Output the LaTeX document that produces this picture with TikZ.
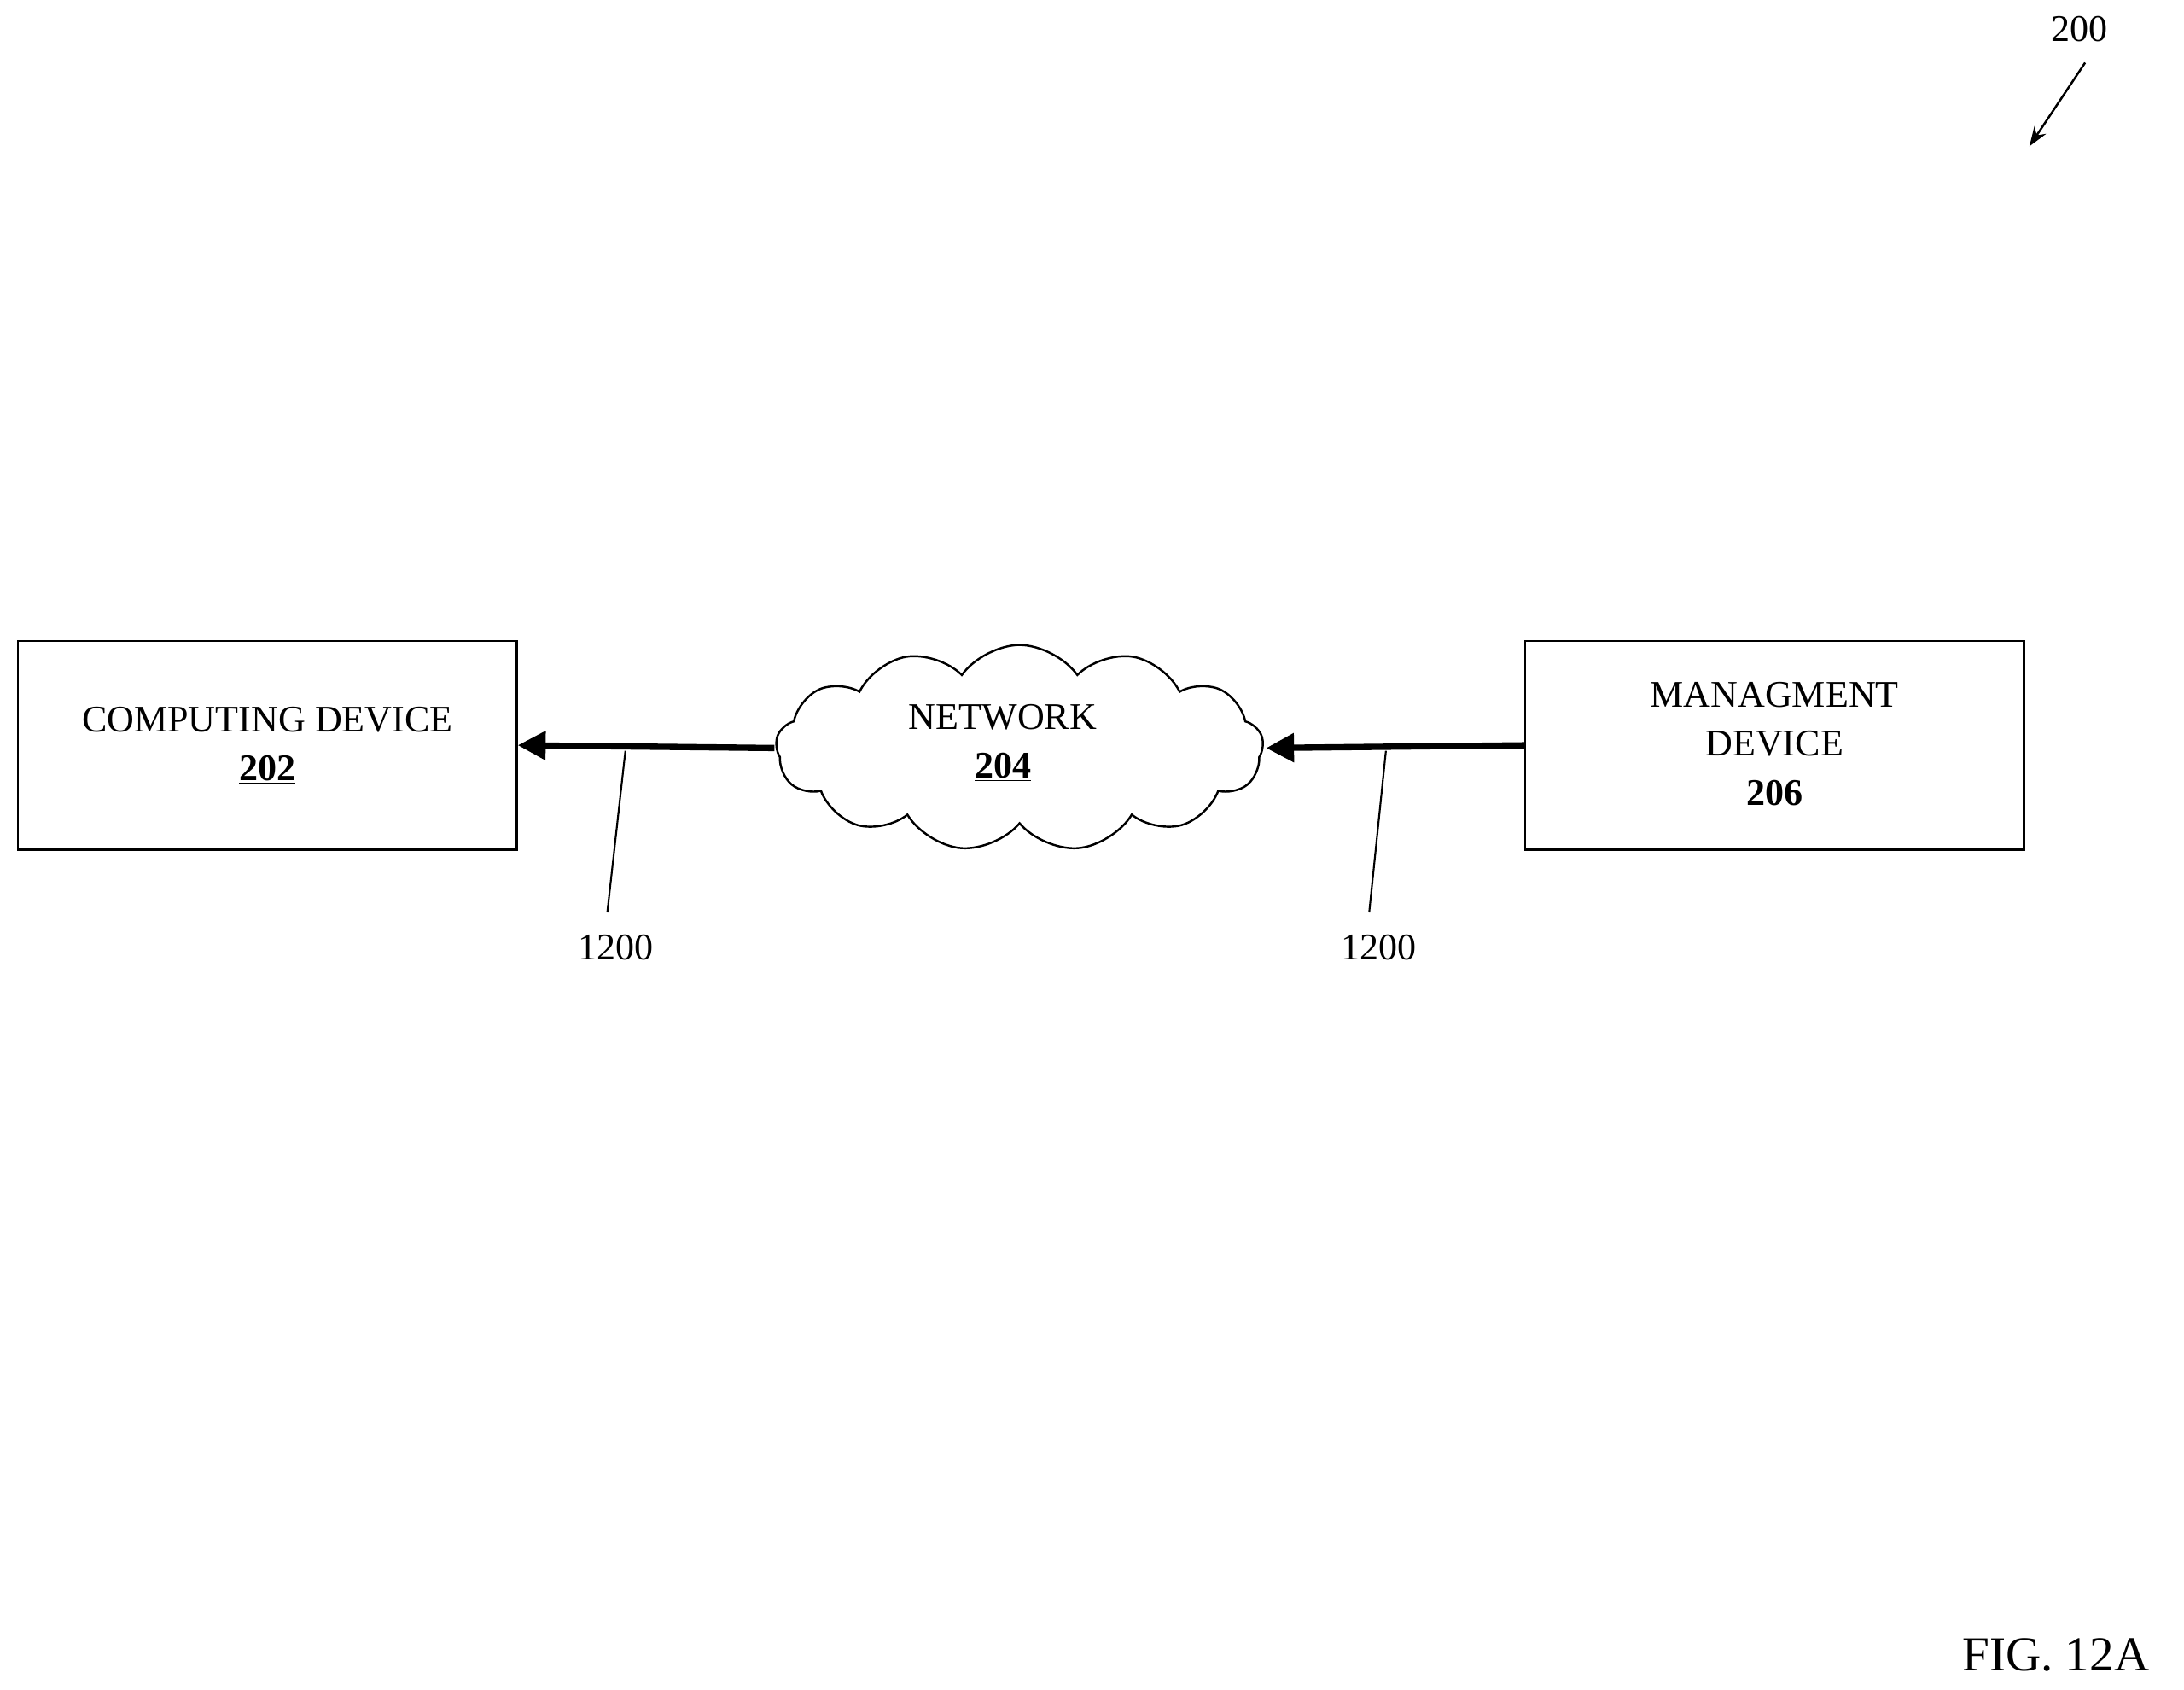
\documentclass[tikz,border=0pt]{standalone}
\usepackage{fontspec}
\setmainfont{Liberation Serif}
\usetikzlibrary{shapes.symbols,arrows.meta}
\begin{document}
\begin{tikzpicture}[x=1pt,y=-1pt,
  box/.style={draw,line width=1.5pt,minimum width=358pt,minimum height=150pt,align=center,font=\fontsize{27}{37}\selectfont},
  lbl/.style={font=\fontsize{27}{32}\selectfont},
  flow/.style={line width=4.5pt,-{Triangle[length=20pt,width=20pt]}},
  lead/.style={line width=1.3pt}]
\useasboundingbox (0,0) rectangle (1568,1213);
\node[box] (cd) at (192,535) {COMPUTING DEVICE\\[-2pt]\textbf{\underline{202}}};
\node[draw,line width=1.5pt,cloud,cloud puffs=13,cloud puff arc=110,aspect=2.4,minimum width=350pt,minimum height=148pt,align=center,font=\fontsize{27}{37}\selectfont] (net) at (732,537) {};
\node[lbl,align=center,font=\fontsize{27}{37}\selectfont] (nett) at (720,533) {NETWORK\\[-2pt]\textbf{\underline{204}}};
\node[box] (md) at (1274,535) {MANAGMENT\\[-2pt]DEVICE\\[-2pt]\textbf{\underline{206}}};
\coordinate (nl) at (556,537);
\coordinate (nr) at (909,537);
\draw[flow] (nl) -- (cd.east);
\draw[flow] (md.west) -- (nr);
\coordinate (a1) at (449,539); \coordinate (b1) at (436,655);
\coordinate (a2) at (995,539); \coordinate (b2) at (983,655);
\draw[lead] (a1) -- (b1);
\draw[lead] (a2) -- (b2);
\node[lbl] (l1) at (442,680) {1200};
\node[lbl] (l2) at (990,680) {1200};
\node[lbl] (ref) at (1493,22) {\underline{200}};
\coordinate (rs) at (1497,45);
\coordinate (re) at (1457,105);
\draw[line width=1.5pt,-{Stealth[length=14pt,width=10pt]}] (rs) -- (re);
\node[font=\fontsize{35}{40}\selectfont] (fig) at (1476,1188) {FIG. 12A};
\end{tikzpicture}
\end{document}
